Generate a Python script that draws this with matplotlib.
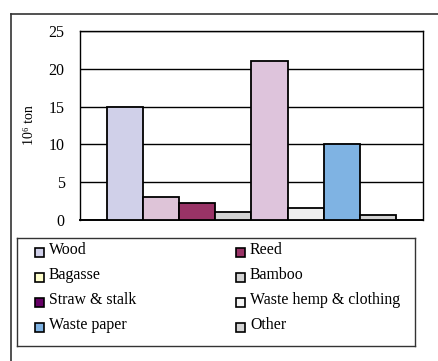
import matplotlib
matplotlib.use('Agg')
import matplotlib.pyplot as plt
from matplotlib.patches import Rectangle
from matplotlib.lines import Line2D

plt.rcParams['font.family'] = ['Liberation Serif', 'DejaVu Serif']

# pulp raw material consumption, one bar per source
sources = ['Wood', 'Bagasse', 'Reed', 'Bamboo', 'Straw & stalk',
           'Waste hemp & clothing', 'Waste paper', 'Other']
amounts = [15, 3.1, 2.2, 1.1, 21, 1.6, 10, 0.6]
bar_colors = ['#D0D0E9', '#DEC4D8', '#993366', '#D3D3D3',
              '#DEC4DC', '#EFEFEF', '#7FB3E3', '#D3D3D3']

# legend entries (two columns, row by row)
legend_labels = ['Wood', 'Reed', 'Bagasse', 'Bamboo', 'Straw & stalk',
                 'Waste hemp & clothing', 'Waste paper', 'Other']
legend_colors = ['#D0D0E9', '#993366', '#FFFFCC', '#D3D3D3',
                 '#660066', '#F4F4F4', '#7FB3E3', '#D3D3D3']

yticks = [0, 5, 10, 15, 20, 25]

W, H = 439, 361
fig = plt.figure(figsize=(W / 100, H / 100), dpi=100)

# outer frame (left and top edges only)
fig.add_artist(Line2D([11 / W, 11 / W], [0, 1 - 14 / H], color='#333333', lw=1.2))
fig.add_artist(Line2D([11 / W, 1], [1 - 14 / H, 1 - 14 / H], color='#333333', lw=1.2))

# ── bar chart ────────────────────────────────────────────────────────
ax = fig.add_axes([80 / W, 1 - 220 / H, (423 - 80) / W, (220 - 31) / H])
x = list(range(len(amounts)))
ax.bar(x, amounts, width=1.0, color=bar_colors, edgecolor='black',
       linewidth=1.3, zorder=3)
ax.set_xlim(-1.25, len(amounts) + 0.25)
ax.set_ylim(0, 25)
ax.set_yticks(yticks)
ax.set_yticklabels([str(t) for t in yticks], fontsize=11.5)
ax.set_xticks([])
ax.tick_params(axis='y', length=0, pad=11)
ax.grid(axis='y', color='black', lw=1.0, zorder=0)
for s in ax.spines.values():
    s.set_color('black')
    s.set_linewidth(1.0)
ax.spines['bottom'].set_linewidth(1.4)
ax.set_ylabel('10\u2076 ton', fontsize=10, labelpad=9)

# ── legend box ───────────────────────────────────────────────────────
lax = fig.add_axes([17 / W, 1 - 346 / H, (415 - 17) / W, (346 - 238) / H])
lax.set_xlim(17, 415)
lax.set_ylim(346, 238)
lax.set_xticks([])
lax.set_yticks([])
for s in lax.spines.values():
    s.set_color('#333333')
    s.set_linewidth(1.0)

col_x = [35, 236]
row_y = [252, 277, 302, 327]
for i, (lab, col) in enumerate(zip(legend_labels, legend_colors)):
    cx = col_x[i % 2]
    cy = row_y[i // 2]
    lax.add_patch(Rectangle((cx, cy - 4), 9, 9, facecolor=col,
                            edgecolor='black', lw=1.2))
    lax.text(cx + 14, cy - 2, lab, fontsize=11.4, ha='left', va='center')

fig.savefig('out.png', dpi=100, facecolor='white')
